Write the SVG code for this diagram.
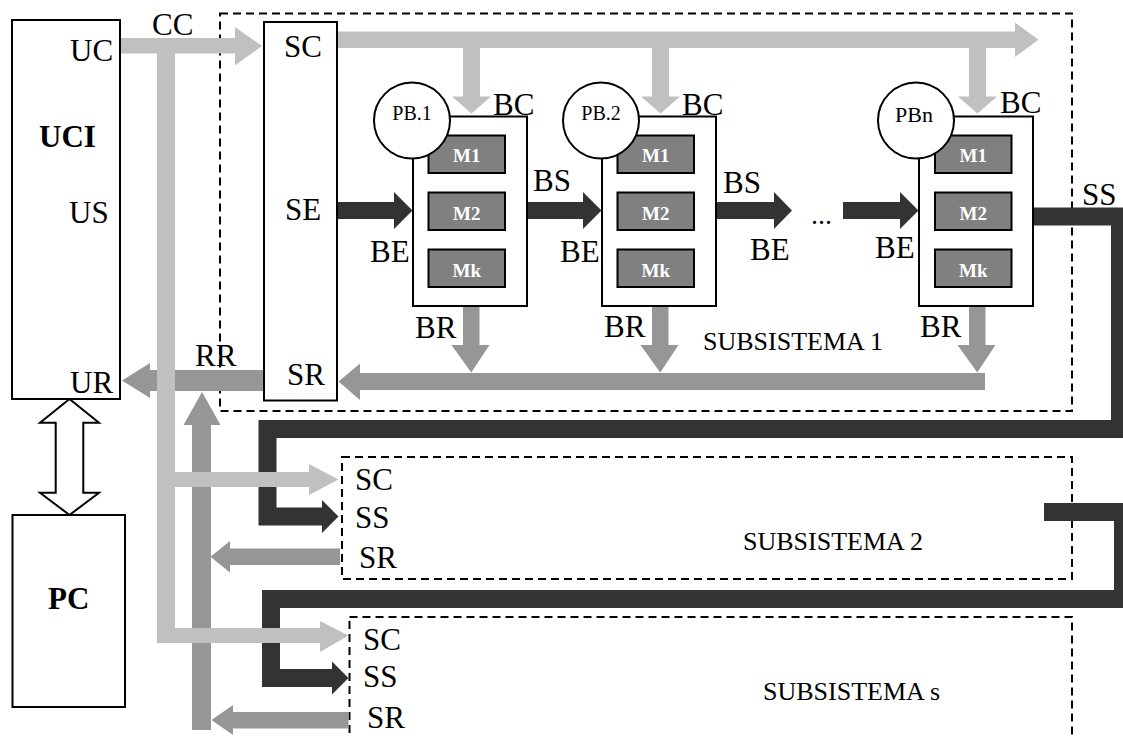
<svg xmlns="http://www.w3.org/2000/svg" width="1123" height="738" viewBox="0 0 1123 738">
<style>
.box{fill:#fff;stroke:#000;stroke-width:2}
.dash{fill:none;stroke:#000;stroke-width:2;stroke-dasharray:8 5}
.mod{fill:#808080;stroke:#000;stroke-width:2}
.lt{fill:#c0c0c0}
.md{fill:#969696}
.dk{fill:#333}
.dkl{fill:none;stroke:#333;stroke-width:18;stroke-linejoin:miter;stroke-linecap:butt}
text{font-family:"Liberation Serif","Times New Roman",serif;fill:#000}
.l{font-size:31px}
.b{font-size:31px;font-weight:bold}
.s{font-size:26px}
.pb{font-size:20px;text-anchor:middle}
.m{font-size:19px;font-weight:bold;fill:#fff;text-anchor:middle}
</style>
<rect width="1123" height="738" fill="#fff"/>

<g id="subsistema1"><rect class="dash" x="220" y="13.5" width="852" height="397.5"/><text class="s" x="703" y="350">SUBSISTEMA 1</text></g>
<g id="subsistema2"><rect class="dash" x="342" y="457" width="730" height="122"/><text class="s" x="743" y="550">SUBSISTEMA 2</text>
<text class="l" x="355" y="490">SC</text><text class="l" x="355" y="528">SS</text><text class="l" x="359" y="568">SR</text></g>
<g id="subsistemas"><rect class="dash" x="349.5" y="617" width="722.5" height="200"/><text class="s" x="763" y="700">SUBSISTEMA s</text>
<text class="l" x="363" y="650">SC</text><text class="l" x="363" y="687">SS</text><text class="l" x="367" y="728">SR</text></g>

<g id="connectors">
<path class="dk" d="M337,202 H394 V192 L412.5,210.5 L394,229 V219 H337 Z"/>
<path class="dk" d="M527,202 H583 V192 L601.5,210.5 L583,229 V219 H527 Z"/>
<path class="dk" d="M716,202 H774 V192 L792,210.5 L774,229 V219 H716 Z"/>
<path class="dk" d="M843,202 H900 V192 L918.5,210.5 L900,229 V219 H843 Z"/>
<path class="dkl" d="M1034,216.5 H1120 V429 H267.5 V516.5 H323"/>
<path class="dk" d="M322,500 L338.5,516.5 L322,533 Z"/>
<path class="dkl" d="M1044,512 H1123 V599 H271 V678 H333"/>
<path class="dk" d="M332,661.5 L348.5,678 L332,694.5 Z"/>
<path class="md" d="M463,306 V345 H451.5 L471.25,372.5 L489.5,345 H479.5 V306 Z"/>
<path class="md" d="M652,306 V345 H640.5 L660.25,372.5 L678.5,345 H668.5 V306 Z"/>
<path class="md" d="M969,306 V345 H957.5 L977.25,372.5 L995.5,345 H985.5 V306 Z"/>
<path class="md" d="M985,373 H360 V363.5 L338.5,381.5 L360,400 V390 H985 Z"/>
<path class="md" d="M264,370 H150 V363 L122,380.5 L150,398 V391 H264 Z"/>
<path class="md" d="M192,730 V425 H183.5 L202,392 L220.5,425 H211 V730 Z"/>
<path class="md" d="M340,548.5 H230 V541 L210.5,556.75 L230,572.5 V565 H340 Z"/>
<path class="md" d="M348.5,712 H233 V705 L211.5,720 L233,735 V728.5 H348.5 Z"/>
<path class="lt" d="M120,38 H235 V27 L262,46 L235,65.5 V53.5 H120 Z"/>
<path class="lt" d="M157,45 V643 H320 V652 L348.5,635.5 L320,621 V628 H175 V487 H309 V495 L338.5,479.5 L309,464 V472 H175 V45 Z"/>
<path class="lt" d="M337,31.5 H1015 V22.5 L1038.5,39.75 L1015,57 V48 H337 Z"/>
<path class="lt" d="M463,48 V96.5 H452 L471.5,113.5 L491,96.5 H480 V48 Z"/>
<path class="lt" d="M652,48 V96.5 H641 L660.5,113.5 L680,96.5 H669 V48 Z"/>
<path class="lt" d="M969,48 V96.5 H958 L977.5,113.5 L997,96.5 H986 V48 Z"/>
<path class="box" d="M69.5,399 L99,422.7 H83.3 V492.7 H99 L69.5,515 L40,492.7 H55.7 V422.7 H40 Z"/>
</g>

<g id="uci"><rect class="box" x="12" y="20" width="108" height="379"/>
<text class="l" x="70" y="61">UC</text><text class="b" x="39" y="147">UCI</text><text class="l" x="69" y="223">US</text><text class="l" x="70" y="393">UR</text></g>
<g id="pc"><rect class="box" x="12.5" y="515" width="112.5" height="192"/><text class="b" x="48" y="609">PC</text></g>
<g id="bus"><rect class="box" x="264" y="22" width="73" height="378.5"/>
<text class="l" x="284" y="57">SC</text><text class="l" x="285" y="220">SE</text><text class="l" x="287" y="385">SR</text></g>

<g id="pb1"><rect class="box" x="413" y="116.5" width="114" height="189.5"/>
<rect class="mod" x="428.5" y="135.5" width="76.5" height="37.5"/><rect class="mod" x="428.5" y="192.5" width="76.5" height="37.5"/><rect class="mod" x="428.5" y="249.5" width="76.5" height="37.5"/>
<text class="m" x="466.75" y="162">M1</text><text class="m" x="466.75" y="219.5">M2</text><text class="m" x="466.75" y="276.5">Mk</text>
<circle class="box" cx="412" cy="120.5" r="38"/><text class="pb" x="412" y="120">PB.1</text></g>
<g id="pb2"><rect class="box" x="602" y="116.5" width="114" height="189.5"/>
<rect class="mod" x="617.5" y="135.5" width="76.5" height="37.5"/><rect class="mod" x="617.5" y="192.5" width="76.5" height="37.5"/><rect class="mod" x="617.5" y="249.5" width="76.5" height="37.5"/>
<text class="m" x="655.75" y="162">M1</text><text class="m" x="655.75" y="219.5">M2</text><text class="m" x="655.75" y="276.5">Mk</text>
<circle class="box" cx="601" cy="120.5" r="38"/><text class="pb" x="601" y="120">PB.2</text></g>
<g id="pbn"><rect class="box" x="919" y="116.5" width="114" height="189.5"/>
<rect class="mod" x="935" y="135.5" width="76.5" height="37.5"/><rect class="mod" x="935" y="192.5" width="76.5" height="37.5"/><rect class="mod" x="935" y="249.5" width="76.5" height="37.5"/>
<text class="m" x="973.25" y="162">M1</text><text class="m" x="973.25" y="219.5">M2</text><text class="m" x="973.25" y="276.5">Mk</text>
<circle class="box" cx="916" cy="120.5" r="38"/><text class="pb" x="914" y="122" style="font-size:22px">PBn</text></g>

<g id="labels">
<text class="l" x="152" y="35">CC</text>
<text class="l" x="195" y="366">RR</text>
<text class="l" x="493" y="115">BC</text><text class="l" x="682" y="115">BC</text><text class="l" x="1000" y="113">BC</text>
<text class="l" x="533" y="191">BS</text><text class="l" x="723" y="193">BS</text>
<text class="l" x="370" y="262">BE</text><text class="l" x="560" y="262">BE</text><text class="l" x="750" y="260">BE</text><text class="l" x="875" y="258">BE</text>
<text class="l" x="415" y="338">BR</text><text class="l" x="604" y="337">BR</text><text class="l" x="920" y="337">BR</text>
<text x="811" y="224" style="font-size:28px">...</text>
<text class="l" x="1082" y="205">SS</text>
</g>
</svg>
